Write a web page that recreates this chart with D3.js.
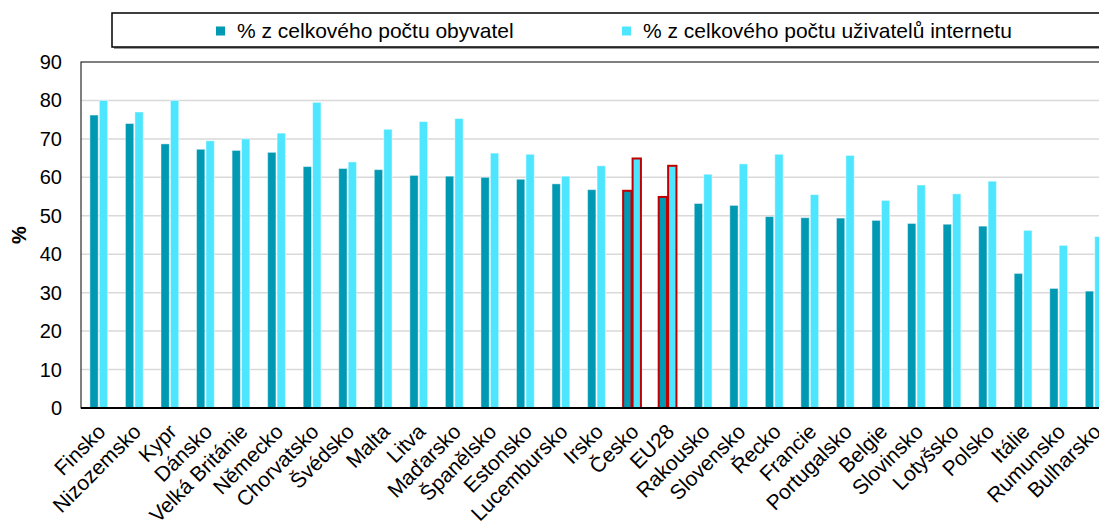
<!DOCTYPE html>
<html>
<head>
<meta charset="utf-8">
<script src="https://cdn.jsdelivr.net/npm/d3@7"></script>
<style>
  body { margin: 0; background: #fff; }
  svg { display: block; font-family: "Liberation Sans", Arial, sans-serif; }
</style>
</head>
<body>
<div id="chart"></div>
<script>
const countries = ['Finsko', 'Nizozemsko', 'Kypr', 'Dánsko', 'Velká Británie', 'Německo', 'Chorvatsko',
  'Švédsko', 'Malta', 'Litva', 'Maďarsko', 'Španělsko', 'Estonsko', 'Lucembursko', 'Irsko', 'Česko',
  'EU28', 'Rakousko', 'Slovensko', 'Řecko', 'Francie', 'Portugalsko', 'Belgie', 'Slovinsko',
  'Lotyšsko', 'Polsko', 'Itálie', 'Rumunsko', 'Bulharsko'];

const ofPopulation = [76.2, 74, 68.7, 67.3, 67, 66.5, 62.8, 62.3, 62, 60.5, 60.3, 60, 59.5, 58.3, 56.8, 56.5,
  54.9, 53.2, 52.7, 49.8, 49.5, 49.4, 48.8, 48, 47.8, 47.3, 35, 31.1, 30.4];
const ofInternetUsers = [80, 77, 80, 69.5, 70, 71.5, 79.5, 64, 72.5, 74.5, 75.3, 66.3, 66, 60.3, 63, 64.9,
  63, 60.8, 63.5, 66, 55.5, 65.7, 54, 58, 55.7, 59, 46.2, 42.3, 44.6];

const seriesNames = ['% z celkového počtu obyvatel', '% z celkového počtu uživatelů internetu'];
const seriesColors = ['#0099b4', '#4ee6ff'];
const highlighted = ['Česko', 'EU28'];
const yTicks = [0, 10, 20, 30, 40, 50, 60, 70, 80, 90];

const width = 1099;
const height = 523;
const plot = { left: 81, top: 62, bottom: 408, step: 35.55 };
plot.right = plot.left + plot.step * countries.length;

const svg = d3.select('#chart')
  .append('svg')
  .attr('width', width)
  .attr('height', height);

const x0 = d3.scaleBand()
  .domain(countries)
  .range([plot.left, plot.right])
  .paddingInner(0.5)
  .paddingOuter(0.25);

const x1 = d3.scaleBand()
  .domain([0, 1])
  .range([0, x0.bandwidth()])
  .paddingInner(0.12);

const y = d3.scaleLinear()
  .domain([0, 90])
  .range([plot.bottom, plot.top]);

// gridlines
svg.append('g')
  .selectAll('line')
  .data(yTicks.filter((d) => d > 0 && d < 90))
  .join('line')
  .attr('x1', plot.left)
  .attr('x2', plot.right)
  .attr('y1', (d) => y(d))
  .attr('y2', (d) => y(d))
  .attr('stroke', '#d9d9d9')
  .attr('stroke-width', 1.5);

// plot frame
svg.append('rect')
  .attr('x', plot.left)
  .attr('y', plot.top)
  .attr('width', plot.right - plot.left)
  .attr('height', plot.bottom - plot.top)
  .attr('fill', 'none')
  .attr('stroke', '#000')
  .attr('stroke-width', 1);

// bars
const rows = countries.map((c, i) => ({ country: c, values: [ofPopulation[i], ofInternetUsers[i]] }));

const groups = svg.append('g')
  .selectAll('g')
  .data(rows)
  .join('g')
  .attr('transform', (d) => `translate(${x0(d.country)},0)`);

groups.selectAll('rect')
  .data((d) => d.values.map((v, k) => ({ k, v, hi: highlighted.includes(d.country) })))
  .join('rect')
  .attr('x', (d) => x1(d.k))
  .attr('width', x1.bandwidth())
  .attr('y', (d) => y(d.v))
  .attr('height', (d) => y(0) - y(d.v))
  .attr('fill', (d) => seriesColors[d.k])
  .attr('stroke', (d) => (d.hi ? '#c00000' : 'rgba(255,255,255,0.45)'))
  .attr('stroke-width', (d) => (d.hi ? 2 : 1));

// x axis line
svg.append('line')
  .attr('x1', plot.left)
  .attr('x2', plot.right)
  .attr('y1', plot.bottom)
  .attr('y2', plot.bottom)
  .attr('stroke', '#000')
  .attr('stroke-width', 2);

// y tick labels
svg.append('g')
  .selectAll('text')
  .data(yTicks)
  .join('text')
  .attr('x', 62)
  .attr('y', (d) => y(d))
  .attr('dy', '0.35em')
  .attr('text-anchor', 'end')
  .attr('font-size', 20)
  .attr('fill', '#000')
  .text((d) => d);

// y title
svg.append('text')
  .attr('transform', `translate(26,${(plot.top + plot.bottom) / 2}) rotate(-90)`)
  .attr('text-anchor', 'middle')
  .attr('font-size', 20)
  .attr('font-weight', 'bold')
  .text('%');

// x labels
svg.append('g')
  .selectAll('text')
  .data(countries)
  .join('text')
  .attr('transform', (d) => `translate(${x0(d) + x0.bandwidth() / 2 + 8},${plot.bottom + 25}) rotate(-45)`)
  .attr('text-anchor', 'end')
  .attr('font-size', 21)
  .attr('fill', '#000')
  .text((d) => d);

// legend
const legend = svg.append('g');
legend.append('rect')
  .attr('x', 114)
  .attr('y', 15)
  .attr('width', 1000)
  .attr('height', 34)
  .attr('fill', '#999');
legend.append('rect')
  .attr('x', 112)
  .attr('y', 13)
  .attr('width', 1000)
  .attr('height', 34)
  .attr('fill', '#fff')
  .attr('stroke', '#000')
  .attr('stroke-width', 1.5);

const legendX = [216, 622];
const items = legend.selectAll('g.item')
  .data(seriesNames)
  .join('g')
  .attr('class', 'item')
  .attr('transform', (d, i) => `translate(${legendX[i]},31)`);

items.append('rect')
  .attr('x', 0)
  .attr('y', -4.5)
  .attr('width', 9)
  .attr('height', 9)
  .attr('fill', (d, i) => seriesColors[i]);

items.append('text')
  .attr('x', 21)
  .attr('dy', '0.35em')
  .attr('font-size', 21)
  .text((d) => d);
</script>
</body>
</html>
